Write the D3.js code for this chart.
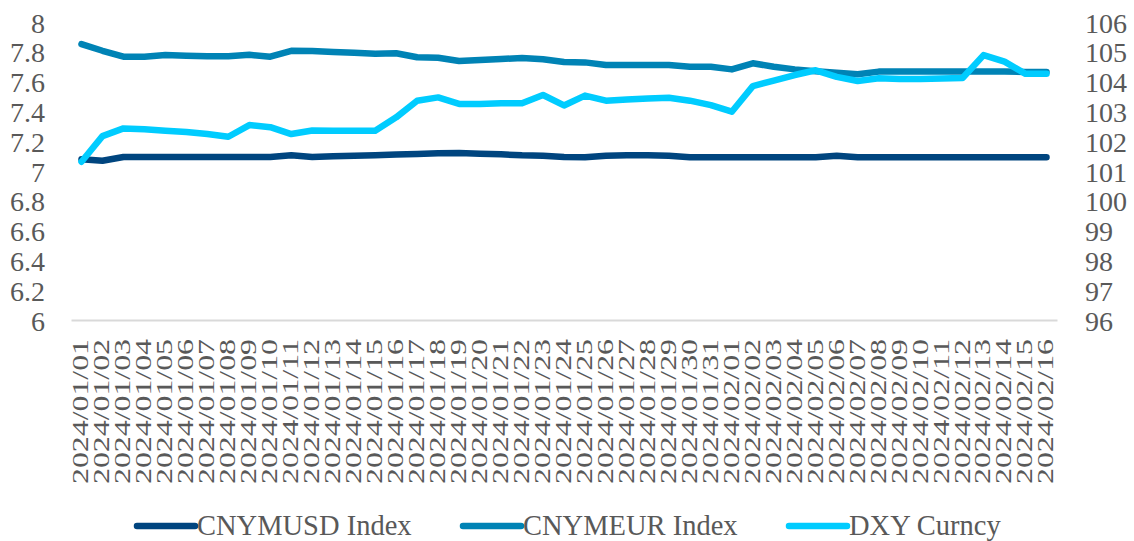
<!DOCTYPE html>
<html>
<head>
<meta charset="utf-8">
<script src="https://cdn.jsdelivr.net/npm/d3@7/dist/d3.min.js"></script>
<style>
  html, body { margin: 0; padding: 0; background: #ffffff; }
  svg { display: block; }
  svg text { font-family: "Liberation Serif", "Times New Roman", Tinos, "DejaVu Serif", serif; }
</style>
</head>
<body>
<svg id="chart" width="1134" height="541"></svg>
<script>
// ---- data ----
const dates = [
  "2024/01/01","2024/01/02","2024/01/03","2024/01/04","2024/01/05","2024/01/06",
  "2024/01/07","2024/01/08","2024/01/09","2024/01/10","2024/01/11","2024/01/12",
  "2024/01/13","2024/01/14","2024/01/15","2024/01/16","2024/01/17","2024/01/18",
  "2024/01/19","2024/01/20","2024/01/21","2024/01/22","2024/01/23","2024/01/24",
  "2024/01/25","2024/01/26","2024/01/27","2024/01/28","2024/01/29","2024/01/30",
  "2024/01/31","2024/02/01","2024/02/02","2024/02/03","2024/02/04","2024/02/05",
  "2024/02/06","2024/02/07","2024/02/08","2024/02/09","2024/02/10","2024/02/11",
  "2024/02/12","2024/02/13","2024/02/14","2024/02/15","2024/02/16"
];
const cnymusd = [
  7.079, 7.069, 7.094, 7.094, 7.094, 7.094, 7.094, 7.094, 7.094, 7.094,
  7.105, 7.094, 7.099, 7.103, 7.105, 7.110, 7.114, 7.119, 7.120, 7.116,
  7.112, 7.105, 7.103, 7.094, 7.092, 7.103, 7.105, 7.105, 7.103, 7.092,
  7.092, 7.092, 7.092, 7.092, 7.092, 7.092, 7.103, 7.092, 7.092, 7.092,
  7.092, 7.092, 7.092, 7.092, 7.092, 7.092, 7.092
];
const cnymeur = [
  7.852, 7.807, 7.767, 7.767, 7.778, 7.774, 7.770, 7.770, 7.780, 7.767,
  7.807, 7.805, 7.799, 7.794, 7.787, 7.790, 7.763, 7.760, 7.738, 7.745,
  7.752, 7.758, 7.750, 7.732, 7.729, 7.711, 7.711, 7.711, 7.711, 7.700,
  7.700, 7.682, 7.723, 7.700, 7.682, 7.670, 7.660, 7.649, 7.667, 7.667,
  7.667, 7.667, 7.667, 7.667, 7.667, 7.665, 7.665
];
const dxy = [
  101.31, 102.17, 102.43, 102.40, 102.35, 102.31, 102.24, 102.15, 102.54, 102.47,
  102.24, 102.36, 102.35, 102.35, 102.35, 102.80, 103.36, 103.47, 103.25, 103.25,
  103.27, 103.27, 103.55, 103.20, 103.53, 103.36, 103.40, 103.43, 103.46, 103.36,
  103.21, 102.99, 103.85, 104.03, 104.22, 104.38, 104.16, 104.02, 104.11, 104.09,
  104.09, 104.10, 104.12, 104.89, 104.67, 104.26, 104.26
];
const leftTicks = [6, 6.2, 6.4, 6.6, 6.8, 7, 7.2, 7.4, 7.6, 7.8, 8];
const rightTicks = [96, 97, 98, 99, 100, 101, 102, 103, 104, 105, 106];
const seriesNames = ["CNYMUSD Index", "CNYMEUR Index", "DXY Curncy"];
const seriesColors = ["#00457f", "#0083b5", "#00ccff"];

// ---- chart ----
const svg = d3.select("#chart");
const textColor = "#595959";

const x = d3.scaleBand().domain(dates).range([71, 1057]).padding(0);
const cx = d => x(d) + x.bandwidth() / 2;
const yL = d3.scaleLinear().domain([6, 8]).range([320, 22]);
const yR = d3.scaleLinear().domain([96, 106]).range([320, 22]);

// left axis
const gL = svg.append("g").attr("transform", "translate(71,0)")
  .call(d3.axisLeft(yL).tickValues(leftTicks).tickSize(0).tickPadding(26)
    .tickFormat(d => d3.format("~g")(d)));
gL.select(".domain").remove();
gL.attr("font-family", null);
gL.selectAll("text").attr("font-size", 28)
  .attr("fill", textColor).attr("dy", "0.36em");

// right axis
const gR = svg.append("g").attr("transform", "translate(1057,0)")
  .call(d3.axisRight(yR).tickValues(rightTicks).tickSize(0).tickPadding(28));
gR.select(".domain").remove();
gR.attr("font-family", null);
gR.selectAll("text").attr("font-size", 28)
  .attr("fill", textColor).attr("dy", "0.36em");

// bottom axis
const gB = svg.append("g").attr("transform", "translate(0,320)")
  .call(d3.axisBottom(x).tickSize(0).tickSizeOuter(0));
gB.attr("font-family", null);
gB.select(".domain").attr("stroke", "#d9d9d9").attr("stroke-width", 2);
gB.selectAll("text")
  .attr("font-size", 23).attr("fill", textColor)
  .attr("text-anchor", "end")
  .attr("transform", "rotate(-90)")
  .attr("x", -19).attr("y", 0).attr("dy", "0.3em")
  .attr("textLength", 145).attr("lengthAdjust", "spacingAndGlyphs");

// lines
const lineL = d3.line().x((d, i) => cx(dates[i])).y(d => yL(d));
const lineR = d3.line().x((d, i) => cx(dates[i])).y(d => yR(d));
const series = [
  { vals: cnymusd, gen: lineL, color: seriesColors[0] },
  { vals: cnymeur, gen: lineL, color: seriesColors[1] },
  { vals: dxy, gen: lineR, color: seriesColors[2] }
];
svg.append("g").selectAll("path").data(series).join("path")
  .attr("d", s => s.gen(s.vals))
  .attr("fill", "none")
  .attr("stroke", s => s.color)
  .attr("stroke-width", 6.5)
  .attr("stroke-linejoin", "round")
  .attr("stroke-linecap", "round");

// legend
const legendX = [137, 463, 789];
const lg = svg.append("g").selectAll("g").data(seriesNames).join("g")
  .attr("transform", (d, i) => `translate(${legendX[i]},526)`);
lg.append("line").attr("x1", 0).attr("x2", 58).attr("y1", 0).attr("y2", 0)
  .attr("stroke", (d, i) => seriesColors[i]).attr("stroke-width", 6.5)
  .attr("stroke-linecap", "round");
lg.append("text").attr("x", 60).attr("y", 9)
  .attr("font-size", 28.5).attr("fill", textColor)
  .text(d => d);
</script>
</body>
</html>
